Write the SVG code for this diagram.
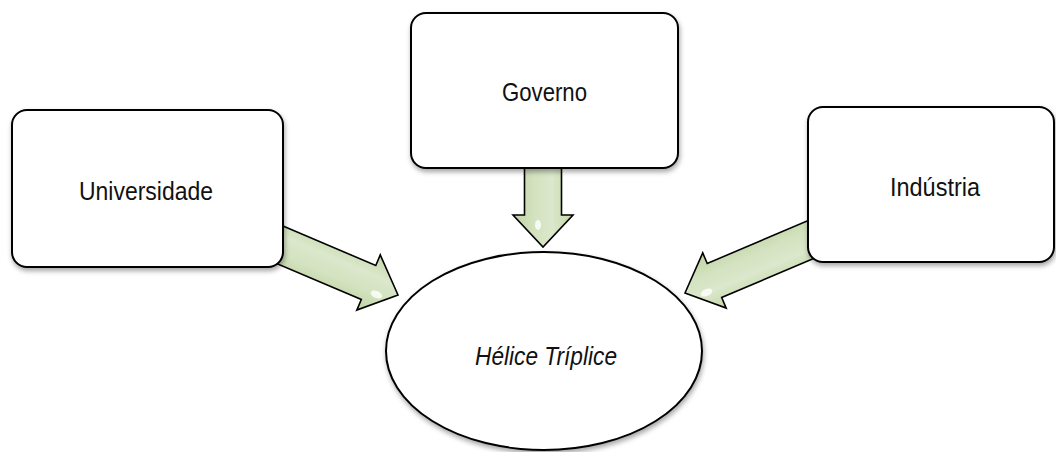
<svg xmlns="http://www.w3.org/2000/svg" width="1056" height="452" viewBox="0 0 1056 452">
<style>
.box{fill:#ffffff;stroke:#000000;stroke-width:2;filter:url(#sh)}
.lbl{font-family:"Liberation Sans",Arial,sans-serif;font-size:25px;fill:#111111;text-anchor:middle}
.arr{fill:url(#g);stroke:#000000;stroke-width:1.6;stroke-linejoin:miter}
.hl{fill:#ffffff;opacity:0.8}
</style>
<defs>
<filter id="sh" x="-10%" y="-10%" width="125%" height="130%">
<feDropShadow dx="1" dy="3" stdDeviation="2.5" flood-color="#000000" flood-opacity="0.35"/>
</filter>
<linearGradient id="g" x1="0" y1="0" x2="0" y2="1">
<stop offset="0" stop-color="#c3d6a6"/>
<stop offset="0.35" stop-color="#dbe8cc"/>
<stop offset="0.65" stop-color="#d3e2bf"/>
<stop offset="1" stop-color="#bfd3a2"/>
</linearGradient>
</defs>
<g id="connectors">
<g transform="translate(398,295) rotate(23)">
<path class="arr" d="M-150,-18.5 L-32,-18.5 L-32,-30 L0,0 L-32,30 L-32,18.5 L-150,18.5 Z"/>
<ellipse class="hl" cx="-20" cy="8" rx="6" ry="3.5"/>
</g>
<g transform="translate(543,247) rotate(90)">
<path class="arr" d="M-80,-18.5 L-32,-18.5 L-32,-30 L0,0 L-32,30 L-32,18.5 L-80,18.5 Z"/>
<ellipse class="hl" cx="-22" cy="5" rx="5" ry="3"/>
</g>
<g transform="translate(685,293) rotate(157)">
<path class="arr" d="M-150,-18.5 L-32,-18.5 L-32,-30 L0,0 L-32,30 L-32,18.5 L-150,18.5 Z"/>
<ellipse class="hl" cx="-20" cy="-8" rx="6" ry="3.5"/>
</g>
</g>
<g id="universidade">
<rect class="box" x="12" y="110" width="271" height="157" rx="15" ry="15"/>
<text class="lbl" x="146" y="200" textLength="134" lengthAdjust="spacingAndGlyphs">Universidade</text>
</g>
<g id="governo">
<rect class="box" x="411" y="13" width="267" height="155" rx="15" ry="15"/>
<text class="lbl" x="544.5" y="101" textLength="85" lengthAdjust="spacingAndGlyphs">Governo</text>
</g>
<g id="industria">
<rect class="box" x="808" y="107" width="246" height="155" rx="15" ry="15"/>
<text class="lbl" x="935" y="196" textLength="90" lengthAdjust="spacingAndGlyphs">Indústria</text>
</g>
<g id="helice">
<ellipse class="box" cx="544" cy="351" rx="158" ry="99"/>
<text class="lbl" x="546" y="365" font-style="italic" textLength="142" lengthAdjust="spacingAndGlyphs">Hélice Tríplice</text>
</g>
</svg>
